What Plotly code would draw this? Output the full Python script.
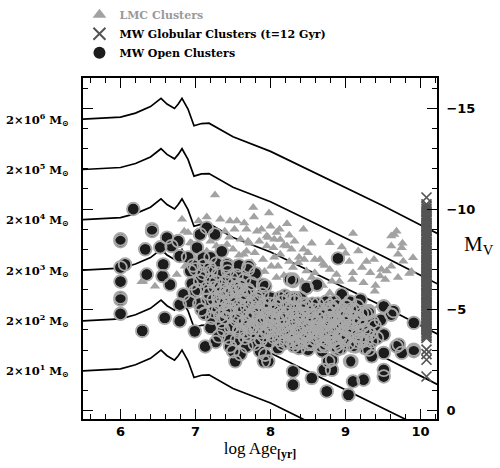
import plotly.graph_objects as go

# ---------------- data ----------------
# Model tracks: shape relative to the starting magnitude (log age, delta Mv)
TRACK_AGE = [5.5, 5.8, 6.0, 6.2, 6.4, 6.54, 6.62, 6.72, 6.77, 6.82, 6.9, 6.98, 7.08, 7.18,
             7.3, 7.5, 8.0, 8.5, 9.0, 9.5, 10.0, 10.25]
TRACK_DMV = [0.0, -0.04, -0.1, -0.3, -0.62, -1.03, -0.75, -0.53, -0.75, -1.03, -0.5, 0.33, 0.22, 0.2,
             0.45, 0.88, 1.6, 2.5, 3.4, 4.3, 5.25, 5.72]
TRACK_MV0 = [-1.97, -4.45, -6.97, -9.47, -11.96, -14.46]
TRACK_LABELS = ["2×10<sup>1</sup> M<sub>⊙</sub>", "2×10<sup>2</sup> M<sub>⊙</sub>",
                "2×10<sup>3</sup> M<sub>⊙</sub>", "2×10<sup>4</sup> M<sub>⊙</sub>",
                "2×10<sup>5</sup> M<sub>⊙</sub>", "2×10<sup>6</sup> M<sub>⊙</sub>"]

# LMC clusters (log age, Mv)
LMC_AGE = [7.26, 7.77, 6.82, 6.90, 7.04, 7.33, 7.46, 7.55, 7.68, 7.39, 7.82, 7.95, 7.42, 7.28,
           7.50, 7.37, 7.64, 7.79, 7.95, 7.90, 7.75, 7.55, 7.46, 6.75, 6.28, 6.93, 6.86, 6.30,
           6.46, 6.95, 6.85, 8.22, 8.44, 8.00, 8.08, 7.97, 8.13, 8.04, 8.22, 8.28, 8.44, 8.50,
           8.59, 8.66, 8.13, 8.37, 8.01, 8.10, 8.48, 8.59, 8.79, 8.95, 8.79, 8.88, 9.10, 9.17,
           9.10, 9.09, 9.24, 9.33, 9.39, 9.46, 9.55, 9.61, 9.61, 9.75, 9.61, 9.68, 9.77, 9.90,
           9.53, 8.79, 8.97, 8.82, 7.15, 7.22, 7.60, 7.70, 7.85, 8.05, 8.18, 8.30, 8.55, 8.70,
           7.30, 7.48, 7.62, 7.88, 8.15, 8.35, 8.62, 7.10, 7.35, 7.58, 9.00, 9.28, 9.45, 9.85,
           7.45, 7.52, 7.60, 7.65, 7.72, 7.78, 7.85, 7.88, 7.98, 8.05, 8.12, 8.18, 8.25, 8.32,
           8.38, 8.45, 8.55, 8.72, 9.05, 9.22, 9.38, 9.48, 9.70, 9.88, 7.20, 7.15, 7.05, 6.98,
           6.60, 7.52, 7.68, 7.92, 8.08, 8.25, 8.42, 8.70, 8.92, 9.20, 9.40, 9.65, 9.76, 9.70]
LMC_MV = [-10.70, -10.07, -9.49, -8.83, -9.40, -9.49, -9.40, -9.40, -8.99, -8.90, -8.90, -8.66,
          -8.24, -8.16, -8.00, -7.83, -7.75, -7.83, -8.16, -7.50, -7.33, -7.16, -6.92, -6.75,
          -6.39, -8.33, -7.16, -6.40, -6.17, -8.30, -8.90, -9.27, -8.99, -9.15, -8.83, -8.58,
          -8.49, -8.08, -8.16, -8.00, -8.00, -7.83, -7.50, -7.50, -7.75, -7.33, -7.16, -7.16,
          -6.92, -6.84, -8.33, -8.11, -7.00, -6.75, -8.78, -7.92, -6.84, -6.50, -6.34, -6.84,
          -5.92, -6.67, -6.92, -7.16, -8.16, -8.08, -8.66, -8.90, -7.41, -7.58, -6.50, -5.84,
          -5.76, -6.42, -7.90, -6.90, -6.60, -8.40, -6.90, -7.60, -6.70, -7.10, -6.60, -7.30,
          -5.90, -5.50, -5.20, -5.60, -5.30, -5.70, -5.40, -7.30, -6.50, -7.70, -7.80, -7.40,
          -5.20, -6.80,
          -8.60, -9.00, -8.50, -9.30, -8.30, -9.60, -8.40, -9.00, -9.80, -8.50, -9.00, -8.20,
          -8.70, -8.40, -7.60, -7.50, -8.30, -7.20, -7.40, -7.10, -7.50, -7.00, -6.60, -6.90,
          -8.40, -9.60, -8.20, -7.60, -6.80, -7.30, -7.90, -6.90, -6.60, -7.40, -6.40, -6.20,
          -6.40, -5.60, -6.20, -8.73, -8.30, -7.75]

# MW globular clusters, all plotted at t = 12 Gyr
GC_AGE = 10.08
GC_MV = [-10.57, -10.23, -10.12, -10.02, -9.93, -9.86, -9.74, -9.67, -9.60, -9.49, -9.43, -9.33,
         -9.28, -9.19, -9.11, -9.06, -8.95, -8.90, -8.81, -8.72, -8.68, -8.58, -8.51, -8.46,
         -8.36, -8.29, -8.21, -8.16, -8.07, -8.01, -7.92, -7.84, -7.79, -7.70, -7.62, -7.56,
         -7.47, -7.41, -7.33, -7.25, -7.19, -7.10, -7.04, -6.95, -6.88, -6.82, -6.73, -6.66,
         -6.58, -6.50, -6.45, -6.36, -6.28, -6.21, -6.15, -6.06, -5.98, -5.93, -5.84, -5.76,
         -5.71, -5.61, -5.55, -5.46, -5.39, -5.33, -5.24, -5.17, -5.10, -5.02, -4.95, -4.87,
         -4.80, -4.74, -4.65, -4.57, -4.51, -4.42, -4.35, -4.28, -4.20, -4.13, -4.05, -3.98,
         -3.90, -3.83, -3.75, -3.68, -3.60, -3.02, -2.80, -2.52, -1.69]

# MW open clusters (log age, Mv)
OC_AGE = [6.00, 6.00, 6.00, 6.00, 6.00, 6.00, 6.00, 6.06, 6.17, 6.29, 6.33, 6.35, 6.42, 6.42,
          6.53, 6.56, 6.57, 6.59, 6.62, 6.66, 6.68, 6.77, 6.79, 6.79, 6.79, 6.84, 6.93, 6.99,
          6.99, 7.02, 7.06, 7.06, 7.10, 7.13, 7.15, 7.15, 7.19, 7.24, 7.26, 7.31, 7.42, 7.42,
          7.46, 7.50, 7.53, 7.60, 7.68, 7.71, 7.86, 7.90, 7.91, 7.93, 7.97, 8.10, 8.30, 8.30,
          8.30, 8.48, 8.62, 8.33, 8.30, 8.37, 8.50, 8.55, 8.69, 8.71, 8.75, 8.77, 8.82, 8.82,
          8.89, 8.90, 8.95, 9.04, 9.06, 9.08, 9.10, 9.13, 9.22, 9.24, 9.31, 9.31, 9.35, 9.35,
          9.51, 9.51, 9.51, 9.51, 9.51, 9.61, 9.64, 9.68, 9.71, 9.75, 9.91, 9.91, 9.91,
          7.20, 7.25, 7.30, 7.30, 7.35, 7.38, 7.40, 7.45, 7.48, 7.50, 7.52, 7.55, 7.58, 7.60,
          7.62, 7.65, 7.68, 7.70, 7.72, 7.75, 7.78, 7.80, 7.82, 7.85, 7.87, 7.90, 7.92, 7.95,
          7.97, 8.00, 8.02, 8.05, 8.07, 8.10, 8.12, 8.15, 8.18, 8.20, 8.22, 8.25, 8.28, 8.30,
          8.33, 8.35, 8.38, 8.40, 8.42, 8.45, 8.48, 8.50, 8.52, 8.55, 8.58, 8.60, 8.63, 8.65,
          8.68, 8.70, 8.72, 8.75, 8.78, 8.80, 8.83, 8.85, 8.88, 8.90, 8.92, 8.95, 8.98, 9.00,
          9.02, 9.05, 9.08, 9.12, 9.15, 9.18, 9.20, 9.25, 9.28,
          8.30, 8.62, 8.48, 8.30, 8.48, 8.82, 9.02, 9.31, 9.51, 7.99, 8.17, 8.39, 8.89, 9.06,
          9.19, 8.79, 8.99, 8.62, 8.04, 7.82, 7.77, 8.17, 8.82, 9.00, 9.31, 9.61,
          6.90, 6.95, 7.00, 7.05, 7.10, 7.12, 7.18, 7.20, 7.22, 7.28, 7.30, 7.33, 7.35, 7.40,
          7.44, 7.48, 7.55, 7.58, 7.65, 7.70, 7.75, 7.80, 7.42, 7.70, 7.93, 8.26, 7.60,
          7.62, 7.66, 7.74, 7.79, 7.84, 7.88, 7.93, 7.98, 8.03, 8.06, 8.11, 8.14, 8.19, 8.23,
          8.27, 8.31, 8.34, 8.36, 8.41, 8.44, 8.47, 8.51, 8.54, 8.57, 8.61, 8.64, 8.67, 8.71,
          8.74, 8.77, 8.81, 8.84, 8.87, 8.91, 8.94, 8.97, 9.01, 9.04, 9.07, 9.11, 9.14, 9.17,
          9.22, 9.26, 9.30, 9.36, 9.42, 9.47,
          6.92, 6.97, 7.03, 7.08, 7.11, 7.16, 7.21, 7.24, 7.27, 7.32, 7.36, 7.39, 7.43, 7.47,
          7.51, 7.54, 7.57, 7.61, 7.64, 7.67, 7.20, 7.27, 7.37, 7.44, 7.55, 7.60,
          7.33, 7.41, 7.47, 7.53, 7.56, 7.63, 7.69, 7.71, 7.76, 7.81, 7.83, 7.89, 7.91, 7.94,
          7.99, 8.01, 8.04, 8.08, 8.13, 8.16, 8.17, 8.21, 8.24, 8.26, 8.29, 8.32, 8.37, 8.39,
          8.43, 8.46, 8.49, 8.53, 8.56, 8.59, 8.62, 8.66, 8.69, 8.73, 8.76, 8.79, 8.82, 8.86,
          8.89, 8.93, 8.96, 8.99, 9.03, 9.06, 9.09, 9.13, 9.16, 9.19, 9.23, 9.27, 9.33, 9.39,
          7.36, 7.46, 7.58, 7.74, 7.86, 7.96, 8.09, 8.28, 8.43, 8.58, 8.73, 8.86, 9.00, 9.10,
          7.66, 7.84, 8.00, 8.19, 8.40, 8.55]
OC_MV = [-8.50, -8.40, -7.10, -6.40, -5.60, -5.50, -4.80, -7.25, -10.00, -3.95, -8.00, -6.75,
         -9.00, -8.90, -8.10, -6.67, -7.25, -4.60, -8.58, -6.25, -8.16, -8.41, -7.66, -4.43,
         -5.26, -5.76, -6.92, -5.92, -3.93, -8.08, -8.74, -6.42, -7.58, -3.18, -9.07, -6.09,
         -7.08, -5.51, -8.74, -3.68, -7.25, -5.76, -3.18, -2.94, -2.44, -6.25, -3.18, -7.16,
         -2.94, -6.25, -2.44, -2.77, -2.44, -3.10, -1.94, -1.28, -6.42, -6.09, -6.25, -5.59,
         -3.35, -3.35, -3.02, -1.61, -2.94, -2.02, -0.95, -2.44, -2.02, -2.52, -3.02, -7.55,
         -5.76, -0.78, -2.44, -2.44, -1.44, -3.18, -3.43, -1.53, -3.02, -4.93, -3.43, -2.69,
         -5.17, -3.77, -2.86, -2.02, -1.69, -4.76, -4.93, -3.18, -3.27, -2.86, -4.35, -2.94,
         -3.02,
         -6.50, -6.10, -5.00, -6.80, -4.40, -5.30, -6.40, -4.80, -5.90, -4.20, -5.40, -6.70,
         -3.90, -4.90, -5.70, -4.40, -5.20, -6.00, -3.70, -4.70, -5.50, -4.10, -5.60, -4.90,
         -3.50, -4.40, -5.30, -3.90, -4.80, -5.60, -4.20, -3.60, -5.00, -4.50, -3.90, -5.40,
         -4.20, -3.40, -4.80, -3.80, -5.10, -4.30, -3.60, -4.70, -3.10, -4.10, -5.00, -3.70,
         -4.40, -3.30, -4.90, -3.90, -4.50, -3.50, -5.30, -4.10, -3.60, -4.70, -3.30, -5.00,
         -3.90, -4.40, -3.50, -5.40, -4.00, -3.30, -4.90, -3.80, -4.40, -5.20, -3.60, -4.70,
         -4.10, -5.00, -3.70, -4.40, -5.50, -4.00, -3.50,
         -6.50, -6.25, -6.10, -5.59, -5.26, -5.10, -5.17, -4.93, -5.17, -4.18, -3.77, -3.93,
         -4.18, -3.93, -4.51, -4.60, -4.68, -4.35, -4.93, -5.59, -4.85, -4.51, -5.01, -4.68,
         -4.85, -4.76,
         -7.60, -6.30, -7.00, -5.30, -6.80, -4.80, -5.80, -7.60, -4.60, -7.30, -5.60, -6.20,
         -7.90, -4.60, -5.10, -6.60, -5.90, -7.20, -6.50, -4.20, -6.30, -6.80, -7.13, -7.00,
         -6.17, -6.50, -6.17,
         -4.30, -3.60, -4.10, -3.30, -4.60, -3.90, -5.00, -3.40, -4.50, -5.30, -3.50, -4.80,
         -3.90, -5.20, -4.40, -3.20, -5.00, -4.00, -4.60, -3.50, -5.10, -4.10, -3.40, -5.00,
         -3.90, -4.60, -3.20, -4.20, -5.40, -3.70, -4.80, -4.10, -3.40, -4.40, -3.10, -5.00,
         -4.00, -3.30, -5.00, -4.30, -3.40, -3.90, -4.80, -3.10, -3.90, -4.40, -3.60, -4.50,
         -5.40, -7.20, -6.00, -5.00, -7.20, -5.50, -6.90, -4.90, -6.40, -5.30, -6.00, -4.90,
         -6.90, -5.50, -6.30, -4.50, -5.20, -6.00, -5.00, -3.90, -4.10, -3.40, -4.00, -3.60,
         -3.50, -2.80,
         -4.70, -5.90, -4.10, -6.10, -4.60, -5.50, -4.60, -5.90, -3.90, -5.10, -4.40, -5.80,
         -3.70, -4.60, -5.30, -3.80, -4.70, -4.10, -5.60, -3.30, -4.60, -4.00, -5.60, -3.50,
         -4.70, -5.40, -4.40, -3.40, -5.30, -4.20, -3.80, -4.60, -5.30, -3.70, -4.20, -5.00,
         -3.90, -4.50, -3.40, -5.20, -3.90, -4.60, -5.20, -3.60, -4.20, -3.50, -4.40, -5.40,
         -3.80, -4.60, -5.20, -3.50, -4.20, -4.80, -3.80, -4.20,
         -5.60, -5.10, -4.00, -5.30, -4.30, -4.00, -5.20, -3.90, -4.80, -4.10, -3.20, -3.20,
         -4.80, -3.20, -5.80, -5.40, -4.60, -5.70, -5.60, -3.30]

X_TICKS = [6, 7, 8, 9, 10]
Y_TICKS = [-15, -10, -5, 0]

# ---------------- figure ----------------
fig = go.Figure()

for mv0 in TRACK_MV0:
    fig.add_trace(go.Scatter(
        x=TRACK_AGE, y=[mv0 + d for d in TRACK_DMV], mode="lines",
        line=dict(color="black", width=1.7), showlegend=False, hoverinfo="skip"))

fig.add_trace(go.Scatter(
    x=LMC_AGE, y=LMC_MV, mode="markers", name="<span style='color:#9a9a9a'>LMC Clusters</span>",
    legendrank=1,
    marker=dict(symbol="triangle-up", size=9, color="#a2a2a2", line=dict(width=0))))

# open clusters: black disks first, then the grey halos of all points on top
fig.add_trace(go.Scatter(
    x=OC_AGE, y=OC_MV, mode="markers", name="MW Open Clusters", legendrank=3,
    marker=dict(symbol="circle", size=11.5, color="#1c1c1c", line=dict(width=0))))
fig.add_trace(go.Scatter(
    x=OC_AGE, y=OC_MV, mode="markers", showlegend=False, hoverinfo="skip",
    marker=dict(symbol="circle-open", size=12.6, color="#a8a8a8",
                line=dict(color="#a8a8a8", width=1.8))))

fig.add_trace(go.Scatter(
    x=[GC_AGE] * len(GC_MV), y=GC_MV, mode="markers",
    name="MW Globular Clusters (t=12 Gyr)", legendrank=2,
    marker=dict(symbol="x-thin", size=10, color="#555555", line=dict(color="#555555", width=1.7))))

for mv0, lab in zip(TRACK_MV0, TRACK_LABELS):
    fig.add_annotation(x=-0.034, xref="paper", y=mv0, yref="y", text=lab, showarrow=False,
                       xanchor="right", yanchor="middle",
                       font=dict(family="DejaVu Serif", size=11.5, color="black", weight="bold"))

fig.add_annotation(x=1.118, xref="paper", y=0.51, yref="paper", text="M<sub>V</sub>",
                   showarrow=False, xanchor="center", yanchor="middle",
                   font=dict(family="Liberation Serif", size=21, color="black"))

axis_common = dict(showline=True, linecolor="black", linewidth=1.6, mirror="allticks",
                   ticks="inside", ticklen=10, tickwidth=1.4, tickcolor="black",
                   showgrid=False, zeroline=False,
                   tickfont=dict(family="DejaVu Sans", size=13, color="black", weight="bold"))

fig.update_xaxes(range=[5.5, 10.22], tickvals=X_TICKS,
                 minor=dict(dtick=0.2, ticks="inside", ticklen=5, tickwidth=1.2, tickcolor="black",
                            showgrid=False),
                 title=dict(text="log Age<sub><b>[yr]</b></sub>", standoff=1,
                            font=dict(family="Liberation Serif", size=17, color="black")),
                 **axis_common)

fig.update_yaxes(range=[0.42, -16.5], side="right", tickvals=Y_TICKS,
                 minor=dict(dtick=1, ticks="inside", ticklen=5, tickwidth=1.2, tickcolor="black",
                            showgrid=False),
                 ticklabelstandoff=5,
                 **axis_common)

fig.update_layout(
    width=500, height=468,
    margin=dict(l=83, r=63, t=78, b=49, autoexpand=False),
    paper_bgcolor="white", plot_bgcolor="white",
    showlegend=True,
    legend=dict(x=-0.01, y=1.228, xanchor="left", yanchor="top", bgcolor="rgba(0,0,0,0)",
                font=dict(family="DejaVu Serif", size=11, color="black", weight="bold"),
                tracegroupgap=0, itemsizing="constant"),
)

fig.write_html("out.html")
